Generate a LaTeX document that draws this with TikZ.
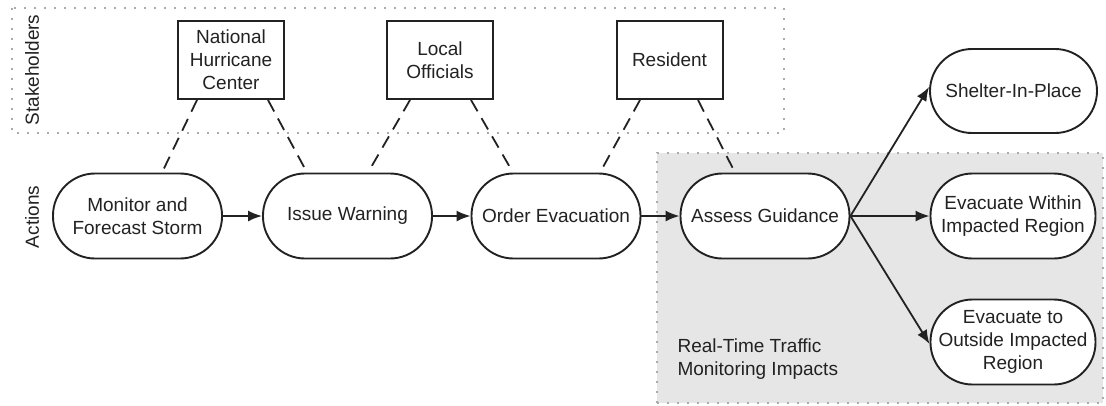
\documentclass[tikz,border=0pt]{standalone}
\usepackage{fontspec}
\setmainfont{Liberation Sans}
\usetikzlibrary{arrows.meta}
\definecolor{zonegray}{HTML}{E6E6E6}
\definecolor{dotgray}{HTML}{AAAAAA}
\definecolor{inkdark}{HTML}{222222}
\begin{document}
\begin{tikzpicture}[x=1pt,y=-1pt,
  every node/.style={font=\fontsize{19}{23}\selectfont, text=inkdark},
  actionbox/.style={draw=inkdark, line width=1.9pt, fill=white, rounded corners=42pt,
    minimum width=169pt, minimum height=85pt, align=center, inner sep=2pt},
  stakebox/.style={draw=inkdark, line width=2pt, fill=white,
    minimum width=106pt, minimum height=78pt, align=center, inner sep=2pt},
  zone/.style={draw=dotgray, line width=1.4pt, dash pattern=on 2pt off 8pt},
  tie/.style={draw=inkdark, line width=1.8pt, dash pattern=on 13pt off 8pt},
  flow/.style={draw=inkdark, line width=1.8pt, -{Latex[length=14pt,width=11pt]}},
  lanelabel/.style={rotate=90, anchor=center}]

\useasboundingbox (0,0) rectangle (1106,405);

% shaded area for traffic monitoring
\fill[zonegray] (657,153) rectangle (1103,403);
\draw[zone] (657,403) -- (657,153) -- (1103,153) -- (1103,403) -- cycle;
\node[anchor=north west, align=left] (rt) at (674,335) {Real-Time Traffic\\Monitoring Impacts};

% stakeholder lane
\draw[zone] (12,8) rectangle (784,133);
\node[lanelabel] (lstake) at (32,70) {Stakeholders};
\node[lanelabel] (lact) at (32,217) {Actions};

% stakeholders
\node[stakebox] (nhc) at (231,60) {National\\Hurricane\\Center};
\node[stakebox] (lo) at (440,60) {Local\\Officials};
\node[stakebox] (res) at (669.5,60) {Resident};

% actions
\node[actionbox] (mon) at (137.5,216) {Monitor and\\Forecast Storm};
\node[actionbox] (iw) at (347.5,216) {Issue Warning};
\node[actionbox] (oe) at (556,216) {Order Evacuation};
\node[actionbox] (ag) at (765,216) {Assess Guidance};

% outcomes
\node[actionbox, minimum width=167pt, minimum height=84pt] (sh) at (1013.5,91) {Shelter-In-Place};
\node[actionbox, minimum width=165pt] (ew) at (1013,216) {Evacuate Within\\Impacted Region};
\node[actionbox, minimum width=165pt] (eo) at (1013,342) {Evacuate to\\Outside Impacted\\Region};

% stakeholder ties
\draw[tie] ([xshift=-34pt]nhc.south) -- ([xshift=24.5pt]mon.north);
\draw[tie] ([xshift=37pt]nhc.south) -- ([xshift=-40.5pt]iw.north);
\draw[tie] ([xshift=-30pt]lo.south) -- ([xshift=20.5pt]iw.north);
\draw[tie] ([xshift=31pt]lo.south) -- ([xshift=-43pt]oe.north);
\draw[tie] ([xshift=-29.5pt]res.south) -- ([xshift=44pt]oe.north);
\draw[tie] ([xshift=28.5pt]res.south) -- ([xshift=-30pt]ag.north);

% action flow
\draw[flow] (mon.east) -- (iw.west);
\draw[flow] (iw.east) -- (oe.west);
\draw[flow] (oe.east) -- (ag.west);
\draw[flow] (ag.east) -- ([yshift=4pt]sh.west);
\draw[flow] (ag.east) -- (ew.west);
\draw[flow] (ag.east) -- ([yshift=-2pt]eo.west);

\end{tikzpicture}
\end{document}
